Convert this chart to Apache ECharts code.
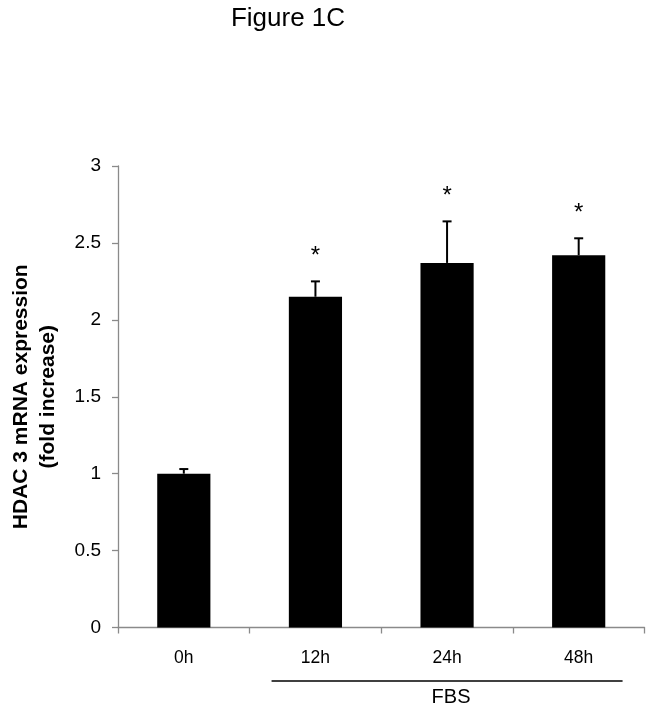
<!DOCTYPE html>
<html>
<head>
<meta charset="utf-8">
<script src="https://cdn.jsdelivr.net/npm/echarts@6/dist/echarts.min.js"></script>
<style>
  html, body { margin: 0; padding: 0; background: #fff; }
  #chart { width: 654px; height: 712px; }
</style>
</head>
<body>
<div id="chart"></div>
<script>
const categories = ['0h', '12h', '24h', '48h'];
const means = [1.00, 2.15, 2.37, 2.42];
const errors = [0.03, 0.10, 0.27, 0.11];
const significant = [0, 1, 1, 1];
const yTicks = { min: 0, max: 3, interval: 0.5 };
const titleText = 'Figure 1C';
const yName = 'HDAC 3 mRNA expression\n(fold increase)';
const groupLabel = 'FBS';
const groupFrom = '12h';
const groupTo = '48h';

const FONT = 'Liberation Sans, Arial, sans-serif';
const axisGray = '#8a8a8a';

const chart = echarts.init(document.getElementById('chart'), null, { renderer: 'canvas' });

const errData = categories.map((c, i) => [i, means[i], errors[i], significant[i]]);

chart.setOption({
  animation: false,
  backgroundColor: '#fff',
  grid: { left: 109.5, right: 9.5, top: 166, bottom: 84.5, containLabel: false },
  xAxis: {
    type: 'category',
    data: categories,
    axisLine: { lineStyle: { color: axisGray, width: 1.3 } },
    axisTick: { show: true, length: 6, lineStyle: { color: axisGray, width: 1.3 } },
    axisLabel: { color: '#000', fontFamily: FONT, fontSize: 17.5, margin: 22 }
  },
  yAxis: {
    type: 'value',
    min: yTicks.min, max: yTicks.max, interval: yTicks.interval,
    splitLine: { show: false },
    axisLine: { show: true, lineStyle: { color: axisGray, width: 1.3 } },
    axisTick: { show: true, length: 6, lineStyle: { color: axisGray, width: 1.3 } },
    axisLabel: { color: '#000', fontFamily: FONT, fontSize: 19, margin: 17 },
    name: yName,
    nameLocation: 'middle',
    nameGap: 56,
    nameRotate: 90,
    nameTextStyle: { color: '#000', fontFamily: FONT, fontSize: 21, fontWeight: 'bold', lineHeight: 27, align: 'center' }
  },
  series: [
    {
      type: 'bar',
      data: means,
      barWidth: '40.4%',
      itemStyle: { color: '#000' },
      silent: true
    },
    {
      type: 'custom',
      data: errData,
      z: 5,
      silent: true,
      renderItem: function (params, api) {
        const i = api.value(0), m = api.value(1), e = api.value(2), s = api.value(3);
        const base = api.coord([i, m]);
        const top = api.coord([i, m + e]);
        const half = 4.5;
        const children = [
          { type: 'line', shape: { x1: base[0], y1: base[1], x2: top[0], y2: top[1] }, style: { stroke: '#000', lineWidth: 2 } },
          { type: 'line', shape: { x1: top[0] - half, y1: top[1], x2: top[0] + half, y2: top[1] }, style: { stroke: '#000', lineWidth: 2 } }
        ];
        if (s) {
          children.push({ type: 'text', x: top[0], y: top[1] - 25, style: { text: '*', fill: '#000', font: '24px ' + FONT, textAlign: 'center', textVerticalAlign: 'middle' } });
        }
        return { type: 'group', children: children };
      }
    }
  ]
});

const p0 = chart.convertToPixel({ xAxisIndex: 0 }, groupFrom);
const p1 = chart.convertToPixel({ xAxisIndex: 0 }, groupTo);
const step = chart.convertToPixel({ xAxisIndex: 0 }, categories[1]) - chart.convertToPixel({ xAxisIndex: 0 }, categories[0]);
const lx1 = p0 - step / 3, lx2 = p1 + step / 3;
const axisY = chart.convertToPixel({ yAxisIndex: 0 }, 0);

chart.setOption({
  graphic: [
    { type: 'text', x: 288, y: 19, style: { text: titleText, fill: '#000', font: '26px ' + FONT, textAlign: 'center', textVerticalAlign: 'middle' } },
    { type: 'line', shape: { x1: lx1, y1: axisY + 53.5, x2: lx2, y2: axisY + 53.5 }, style: { stroke: '#000', lineWidth: 1.5 } },
    { type: 'text', x: (lx1 + lx2) / 2 + 4, y: axisY + 70, style: { text: groupLabel, fill: '#000', font: '20px ' + FONT, textAlign: 'center', textVerticalAlign: 'middle' } }
  ]
});
</script>
</body>
</html>
